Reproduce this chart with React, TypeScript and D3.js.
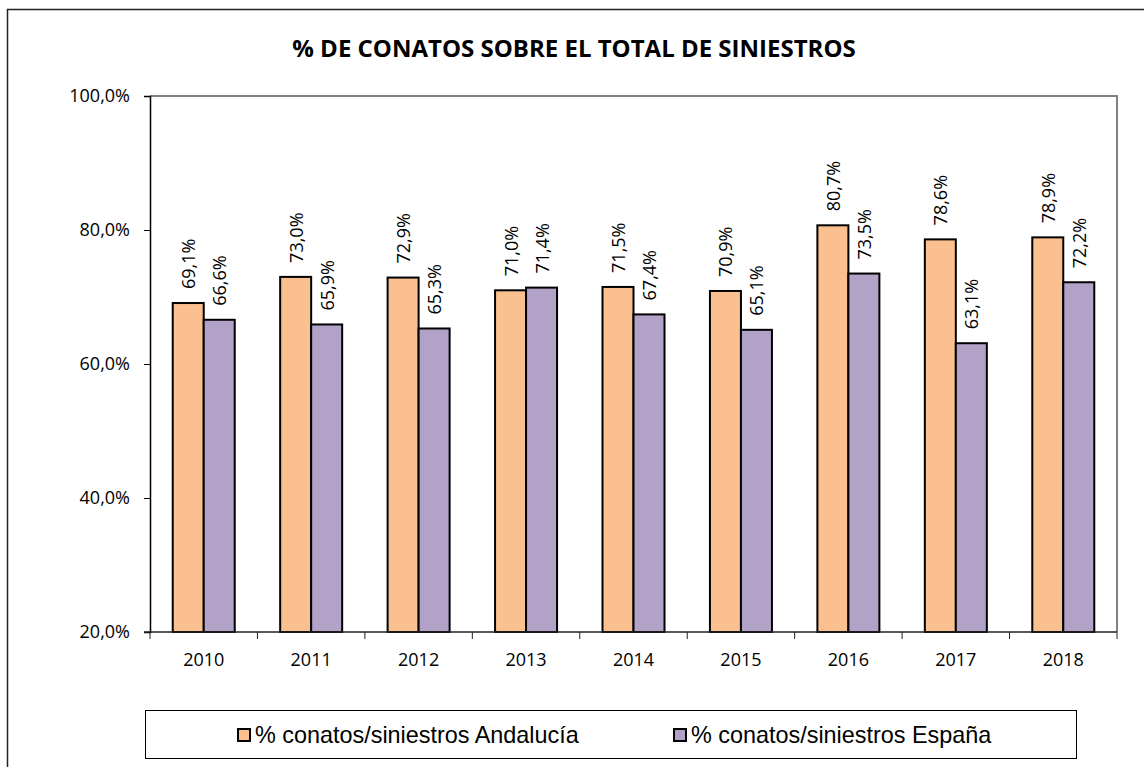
import React, { useEffect, useRef } from 'react';
import * as d3 from 'd3';

const years = ['2010', '2011', '2012', '2013', '2014', '2015', '2016', '2017', '2018'];
const andalucia = [69.1, 73.0, 72.9, 71.0, 71.5, 70.9, 80.7, 78.6, 78.9];
const espana = [66.6, 65.9, 65.3, 71.4, 67.4, 65.1, 73.5, 63.1, 72.2];
const yTicks = [20, 40, 60, 80, 100];
const seriesNames = ['% conatos/siniestros Andalucía', '% conatos/siniestros España'];
const colors = ['#FAC090', '#B3A2C7'];

const fmt = (v: number) => v.toFixed(1).replace('.', ',') + '%';

const App = () => {
  const svgRef = useRef<SVGSVGElement>(null);

  useEffect(() => {
    const svg = d3.select(svgRef.current);
    svg.selectAll('*').remove();

    const left = 150;
    const right = 1117;
    const top = 96;
    const bottom = 632;
    const labelFont = 'Open Sans, Noto Sans, sans-serif';

    // outer frame (only left/top visible in the reference)
    svg.append('rect')
      .attr('x', 7.5).attr('y', 9.5).attr('width', 1200).attr('height', 800)
      .attr('fill', 'white').attr('stroke', '#222').attr('stroke-width', 1.5);

    svg.append('text')
      .attr('x', 574).attr('y', 57)
      .attr('text-anchor', 'middle')
      .style('font-family', labelFont).style('font-weight', 'bold').style('font-size', '24px')
      .text('% DE CONATOS SOBRE EL TOTAL DE SINIESTROS');

    const x = d3.scaleBand().domain(years).range([left, right]);
    const y = d3.scaleLinear().domain([20, 100]).range([bottom, top]);
    const barW = 31;

    // plot border (gray top/right)
    svg.append('path')
      .attr('d', `M${left},${top}H${right}V${bottom}`)
      .attr('fill', 'none').attr('stroke', '#808080').attr('stroke-width', 2);

    // y axis
    const yAxis = svg.append('g')
      .attr('transform', `translate(${left},0)`)
      .call(d3.axisLeft(y).tickValues(yTicks).tickSize(6).tickFormat((d) => fmt(+d)));
    yAxis.select('.domain').attr('stroke', '#000').attr('stroke-width', 1.5);
    yAxis.selectAll('.tick line').attr('stroke', '#000');
    yAxis.selectAll('.tick text')
      .attr('x', -20)
      .style('font-family', labelFont).style('font-size', '18px').attr('fill', '#000');

    // bars
    const groups = [andalucia, espana];
    groups.forEach((vals, si) => {
      svg.append('g')
        .selectAll('rect')
        .data(vals)
        .enter()
        .append('rect')
        .attr('x', (d, i) => x(years[i])! + x.bandwidth() / 2 - barW + si * barW)
        .attr('y', (d) => y(d))
        .attr('width', barW)
        .attr('height', (d) => y(20) - y(d))
        .attr('fill', colors[si])
        .attr('stroke', '#000')
        .attr('stroke-width', 2);

      svg.append('g')
        .selectAll('text')
        .data(vals)
        .enter()
        .append('text')
        .attr('transform', (d, i) => {
          const cx = x(years[i])! + x.bandwidth() / 2 - barW / 2 + si * barW;
          return `translate(${cx + 7},${y(d) - 14}) rotate(-90)`;
        })
        .attr('text-anchor', 'start')
        .style('font-family', labelFont).style('font-size', '18px')
        .text((d) => fmt(d));
    });

    // x axis
    const xAxis = svg.append('g')
      .attr('transform', `translate(0,${bottom})`);
    xAxis.append('line')
      .attr('x1', left - 6).attr('x2', right).attr('y1', 0).attr('y2', 0)
      .attr('stroke', '#222').attr('stroke-width', 1.5);
    xAxis.selectAll('.xt')
      .data([...years.map((yr) => x(yr)!), right])
      .enter()
      .append('line')
      .attr('x1', (d) => d).attr('x2', (d) => d)
      .attr('y1', 0).attr('y2', 7)
      .attr('stroke', '#222');
    xAxis.selectAll('.xl')
      .data(years)
      .enter()
      .append('text')
      .attr('x', (d) => x(d)! + x.bandwidth() / 2)
      .attr('y', 34)
      .attr('text-anchor', 'middle')
      .style('font-family', labelFont).style('font-size', '18px')
      .text((d) => d);

    // legend
    svg.append('rect')
      .attr('x', 145.5).attr('y', 710.5).attr('width', 931).attr('height', 48)
      .attr('fill', 'white').attr('stroke', '#000').attr('stroke-width', 1);
    const legendX = [238, 674];
    seriesNames.forEach((name, i) => {
      svg.append('rect')
        .attr('x', legendX[i]).attr('y', 729)
        .attr('width', 12).attr('height', 12)
        .attr('fill', colors[i]).attr('stroke', '#000').attr('stroke-width', 2);
      svg.append('text')
        .attr('x', legendX[i] + 17).attr('y', 743)
        .style('font-family', 'Liberation Sans, Arial, sans-serif').style('font-size', '23.4px')
        .text(name);
    });
  }, []);

  return (
    <svg ref={svgRef} width={1144} height={767} style={{ position: 'absolute', left: 0, top: 0 }} />
  );
};

export default App;
